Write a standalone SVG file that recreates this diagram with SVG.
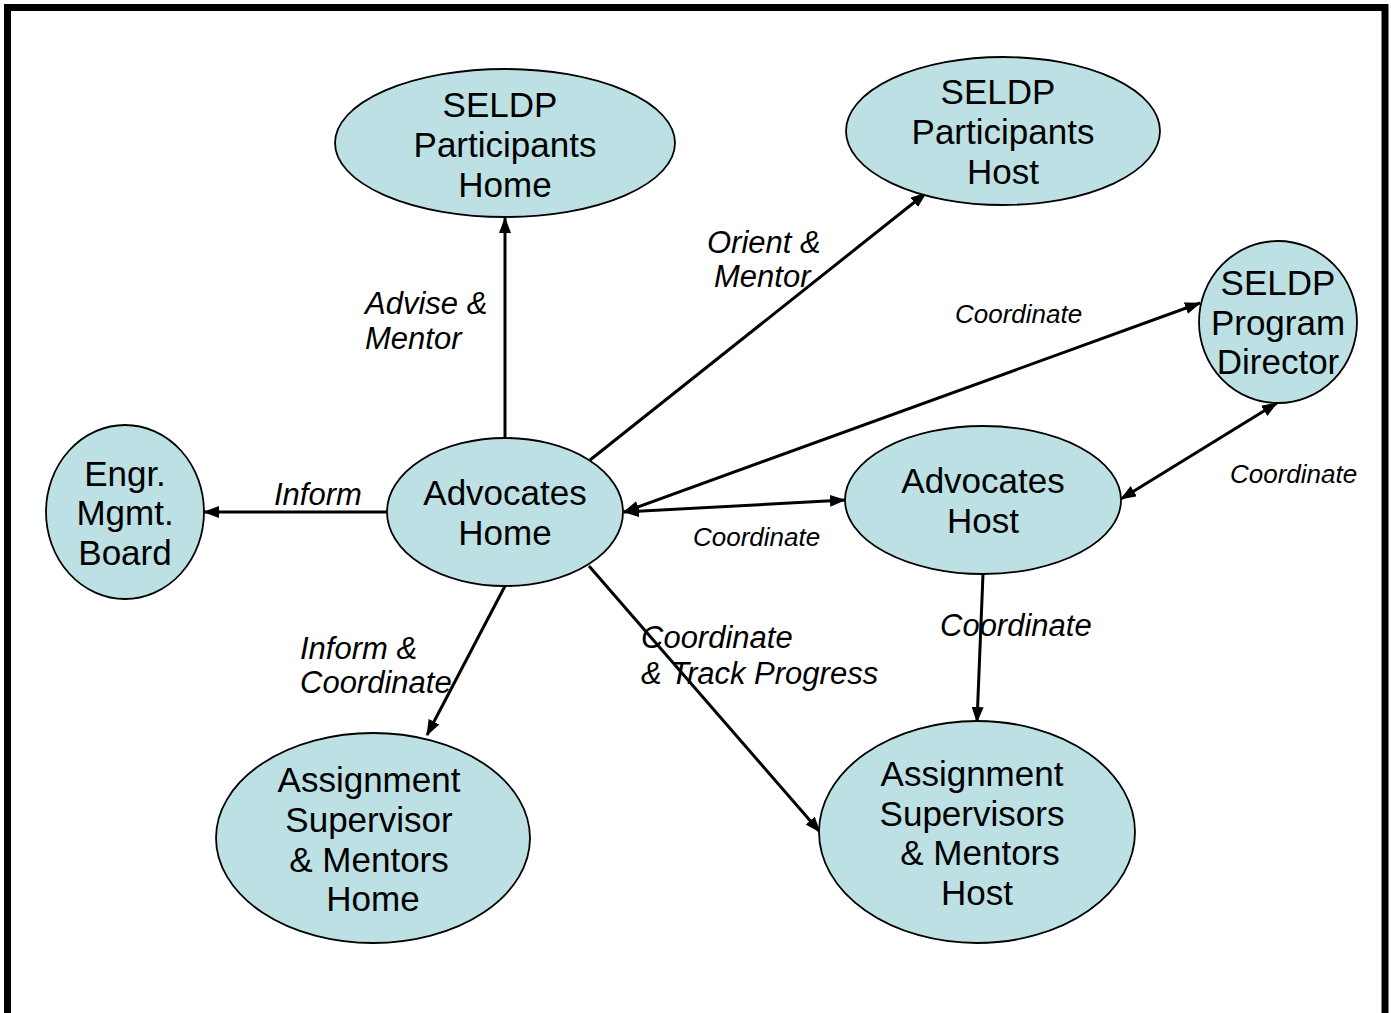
<svg xmlns="http://www.w3.org/2000/svg" width="1391" height="1013" viewBox="0 0 1391 1013">
<style>
.node ellipse{fill:#bce0e3;stroke:#000;stroke-width:1.8}
.node text{font-family:"Liberation Sans",Arial,sans-serif;font-size:35px;text-anchor:middle;fill:#000}
.lbl{font-family:"Liberation Sans",Arial,sans-serif;font-style:italic;fill:#000}
.big{font-size:31px}
.small{font-size:26px}
#connectors line{stroke:#000;stroke-width:3;fill:none}
</style>
<defs>
<marker id="ah" viewBox="0 0 16 12" refX="15" refY="6" markerWidth="16" markerHeight="12" markerUnits="userSpaceOnUse" orient="auto-start-reverse">
<path d="M0,0 L16,6 L0,12 z" fill="#000"/>
</marker>
</defs>
<rect x="0" y="0" width="1391" height="1013" fill="#fff"/>
<rect x="7.5" y="7.5" width="1377.5" height="1020" fill="none" stroke="#000" stroke-width="7"/>
<g id="connectors">
<line x1="505" y1="438" x2="505" y2="218" marker-end="url(#ah)"/>
<line x1="590" y1="460" x2="926" y2="193" marker-end="url(#ah)"/>
<line x1="624" y1="512" x2="1200" y2="303" marker-start="url(#ah)" marker-end="url(#ah)"/>
<line x1="624" y1="512" x2="845" y2="500" marker-start="url(#ah)" marker-end="url(#ah)"/>
<line x1="1277" y1="403" x2="1121" y2="499" marker-start="url(#ah)" marker-end="url(#ah)"/>
<line x1="387" y1="512" x2="204" y2="512" marker-end="url(#ah)"/>
<line x1="505" y1="586" x2="427" y2="735" marker-end="url(#ah)"/>
<line x1="589" y1="566" x2="820" y2="832" marker-end="url(#ah)"/>
<line x1="983" y1="574" x2="977" y2="722" marker-end="url(#ah)"/>
</g>
<g id="n-seldp-home" class="node">
<ellipse cx="505" cy="143" rx="170" ry="74"/>
<text x="500" y="117">SELDP</text><text x="505" y="157">Participants</text><text x="505" y="197">Home</text>
</g>
<g id="n-seldp-host" class="node">
<ellipse cx="1003" cy="131" rx="157" ry="74"/>
<text x="998" y="104">SELDP</text><text x="1003" y="144">Participants</text><text x="1003" y="184">Host</text>
</g>
<g id="n-director" class="node">
<ellipse cx="1278" cy="322" rx="79" ry="81"/>
<text x="1278" y="295">SELDP</text><text x="1278" y="335">Program</text><text x="1278" y="374">Director</text>
</g>
<g id="n-engr" class="node">
<ellipse cx="125" cy="512" rx="79" ry="87"/>
<text x="125" y="486">Engr.</text><text x="125" y="525">Mgmt.</text><text x="125" y="565">Board</text>
</g>
<g id="n-adv-home" class="node">
<ellipse cx="505" cy="512" rx="118" ry="74"/>
<text x="505" y="505">Advocates</text><text x="505" y="545">Home</text>
</g>
<g id="n-adv-host" class="node">
<ellipse cx="983" cy="500" rx="138" ry="74"/>
<text x="983" y="493">Advocates</text><text x="983" y="533">Host</text>
</g>
<g id="n-asm-home" class="node">
<ellipse cx="373" cy="838" rx="157" ry="105"/>
<text x="369" y="792">Assignment</text><text x="369" y="832">Supervisor</text><text x="369" y="872">&amp; Mentors</text><text x="373" y="911">Home</text>
</g>
<g id="n-asm-host" class="node">
<ellipse cx="977" cy="832" rx="158" ry="111"/>
<text x="972" y="786">Assignment</text><text x="972" y="826">Supervisors</text><text x="980" y="865">&amp; Mentors</text><text x="977" y="905">Host</text>
</g>
<g id="labels">
<text class="lbl big" x="365" y="314">Advise &amp;</text>
<text class="lbl big" x="365" y="349">Mentor</text>
<text class="lbl big" x="707" y="253">Orient &amp;</text>
<text class="lbl big" x="714" y="287">Mentor</text>
<text class="lbl small" x="955" y="323">Coordinate</text>
<text class="lbl big" x="274" y="505">Inform</text>
<text class="lbl small" x="693" y="546">Coordinate</text>
<text class="lbl small" x="1230" y="483">Coordinate</text>
<text class="lbl big" x="300" y="659">Inform &amp;</text>
<text class="lbl big" x="300" y="693">Coordinate</text>
<text class="lbl big" x="641" y="648">Coordinate</text>
<text class="lbl big" x="641" y="684">&amp; Track Progress</text>
<text class="lbl big" x="940" y="636">Coordinate</text>
</g>
</svg>
